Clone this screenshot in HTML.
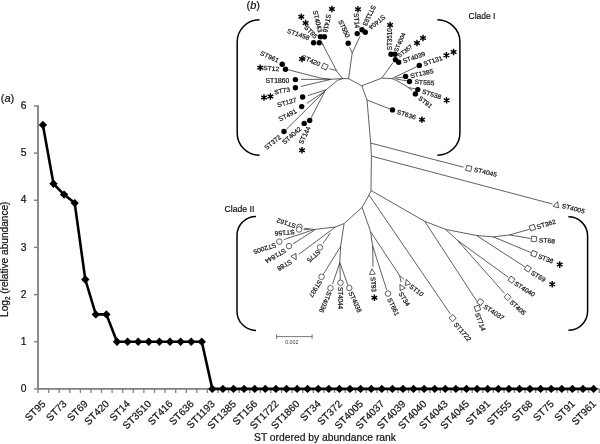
<!DOCTYPE html>
<html><head><meta charset="utf-8"><title>Figure</title>
<style>
html,body{margin:0;padding:0;background:#fff;}
svg{display:block;filter:grayscale(1);font-family:"Liberation Sans",sans-serif;fill:#111;}
svg text{font-family:"Liberation Sans",sans-serif;}
svg text.c{fill:#111;stroke:#111;stroke-width:0.2px;}
svg text.t{stroke:#111;stroke-width:0.2px;}
</style></head><body>
<svg width="600" height="444" viewBox="0 0 600 444">
<rect width="600" height="444" fill="#fff"/>
<path d="M38.0,105.3 L38.0,388.9 L599.3,388.9" fill="none" stroke="#808080" stroke-width="1.8"/>
<path d="M34.0,388.9 L38.0,388.9" stroke="#808080" stroke-width="1.4"/>
<text x="26.4" y="392.0" font-size="10.3" text-anchor="end" class="c">0</text>
<path d="M34.0,341.8 L38.0,341.8" stroke="#808080" stroke-width="1.4"/>
<text x="26.4" y="344.9" font-size="10.3" text-anchor="end" class="c">1</text>
<path d="M34.0,294.6 L38.0,294.6" stroke="#808080" stroke-width="1.4"/>
<text x="26.4" y="297.7" font-size="10.3" text-anchor="end" class="c">2</text>
<path d="M34.0,247.4 L38.0,247.4" stroke="#808080" stroke-width="1.4"/>
<text x="26.4" y="250.5" font-size="10.3" text-anchor="end" class="c">3</text>
<path d="M34.0,200.3 L38.0,200.3" stroke="#808080" stroke-width="1.4"/>
<text x="26.4" y="203.4" font-size="10.3" text-anchor="end" class="c">4</text>
<path d="M34.0,153.1 L38.0,153.1" stroke="#808080" stroke-width="1.4"/>
<text x="26.4" y="156.2" font-size="10.3" text-anchor="end" class="c">5</text>
<path d="M34.0,106.0 L38.0,106.0" stroke="#808080" stroke-width="1.4"/>
<text x="26.4" y="109.1" font-size="10.3" text-anchor="end" class="c">6</text>
<path d="M38.0,388.9 L38.0,392.9" stroke="#808080" stroke-width="1.3"/>
<path d="M48.6,388.9 L48.6,392.9" stroke="#808080" stroke-width="1.3"/>
<path d="M59.2,388.9 L59.2,392.9" stroke="#808080" stroke-width="1.3"/>
<path d="M69.8,388.9 L69.8,392.9" stroke="#808080" stroke-width="1.3"/>
<path d="M80.4,388.9 L80.4,392.9" stroke="#808080" stroke-width="1.3"/>
<path d="M91.0,388.9 L91.0,392.9" stroke="#808080" stroke-width="1.3"/>
<path d="M101.5,388.9 L101.5,392.9" stroke="#808080" stroke-width="1.3"/>
<path d="M112.1,388.9 L112.1,392.9" stroke="#808080" stroke-width="1.3"/>
<path d="M122.7,388.9 L122.7,392.9" stroke="#808080" stroke-width="1.3"/>
<path d="M133.3,388.9 L133.3,392.9" stroke="#808080" stroke-width="1.3"/>
<path d="M143.9,388.9 L143.9,392.9" stroke="#808080" stroke-width="1.3"/>
<path d="M154.5,388.9 L154.5,392.9" stroke="#808080" stroke-width="1.3"/>
<path d="M165.1,388.9 L165.1,392.9" stroke="#808080" stroke-width="1.3"/>
<path d="M175.7,388.9 L175.7,392.9" stroke="#808080" stroke-width="1.3"/>
<path d="M186.3,388.9 L186.3,392.9" stroke="#808080" stroke-width="1.3"/>
<path d="M196.8,388.9 L196.8,392.9" stroke="#808080" stroke-width="1.3"/>
<path d="M207.4,388.9 L207.4,392.9" stroke="#808080" stroke-width="1.3"/>
<path d="M218.0,388.9 L218.0,392.9" stroke="#808080" stroke-width="1.3"/>
<path d="M228.6,388.9 L228.6,392.9" stroke="#808080" stroke-width="1.3"/>
<path d="M239.2,388.9 L239.2,392.9" stroke="#808080" stroke-width="1.3"/>
<path d="M249.8,388.9 L249.8,392.9" stroke="#808080" stroke-width="1.3"/>
<path d="M260.4,388.9 L260.4,392.9" stroke="#808080" stroke-width="1.3"/>
<path d="M271.0,388.9 L271.0,392.9" stroke="#808080" stroke-width="1.3"/>
<path d="M281.6,388.9 L281.6,392.9" stroke="#808080" stroke-width="1.3"/>
<path d="M292.2,388.9 L292.2,392.9" stroke="#808080" stroke-width="1.3"/>
<path d="M302.8,388.9 L302.8,392.9" stroke="#808080" stroke-width="1.3"/>
<path d="M313.3,388.9 L313.3,392.9" stroke="#808080" stroke-width="1.3"/>
<path d="M323.9,388.9 L323.9,392.9" stroke="#808080" stroke-width="1.3"/>
<path d="M334.5,388.9 L334.5,392.9" stroke="#808080" stroke-width="1.3"/>
<path d="M345.1,388.9 L345.1,392.9" stroke="#808080" stroke-width="1.3"/>
<path d="M355.7,388.9 L355.7,392.9" stroke="#808080" stroke-width="1.3"/>
<path d="M366.3,388.9 L366.3,392.9" stroke="#808080" stroke-width="1.3"/>
<path d="M376.9,388.9 L376.9,392.9" stroke="#808080" stroke-width="1.3"/>
<path d="M387.5,388.9 L387.5,392.9" stroke="#808080" stroke-width="1.3"/>
<path d="M398.1,388.9 L398.1,392.9" stroke="#808080" stroke-width="1.3"/>
<path d="M408.6,388.9 L408.6,392.9" stroke="#808080" stroke-width="1.3"/>
<path d="M419.2,388.9 L419.2,392.9" stroke="#808080" stroke-width="1.3"/>
<path d="M429.8,388.9 L429.8,392.9" stroke="#808080" stroke-width="1.3"/>
<path d="M440.4,388.9 L440.4,392.9" stroke="#808080" stroke-width="1.3"/>
<path d="M451.0,388.9 L451.0,392.9" stroke="#808080" stroke-width="1.3"/>
<path d="M461.6,388.9 L461.6,392.9" stroke="#808080" stroke-width="1.3"/>
<path d="M472.2,388.9 L472.2,392.9" stroke="#808080" stroke-width="1.3"/>
<path d="M482.8,388.9 L482.8,392.9" stroke="#808080" stroke-width="1.3"/>
<path d="M493.4,388.9 L493.4,392.9" stroke="#808080" stroke-width="1.3"/>
<path d="M504.0,388.9 L504.0,392.9" stroke="#808080" stroke-width="1.3"/>
<path d="M514.5,388.9 L514.5,392.9" stroke="#808080" stroke-width="1.3"/>
<path d="M525.1,388.9 L525.1,392.9" stroke="#808080" stroke-width="1.3"/>
<path d="M535.7,388.9 L535.7,392.9" stroke="#808080" stroke-width="1.3"/>
<path d="M546.3,388.9 L546.3,392.9" stroke="#808080" stroke-width="1.3"/>
<path d="M556.9,388.9 L556.9,392.9" stroke="#808080" stroke-width="1.3"/>
<path d="M567.5,388.9 L567.5,392.9" stroke="#808080" stroke-width="1.3"/>
<path d="M578.1,388.9 L578.1,392.9" stroke="#808080" stroke-width="1.3"/>
<path d="M588.7,388.9 L588.7,392.9" stroke="#808080" stroke-width="1.3"/>
<path d="M599.3,388.9 L599.3,392.9" stroke="#808080" stroke-width="1.3"/>
<path d="M42.9,124.9 L53.5,183.8 L64.1,194.6 L74.7,203.1 L85.3,279.5 L95.8,314.4 L106.4,314.4 L117.0,341.8 L127.6,341.8 L138.2,341.8 L148.8,341.8 L159.4,341.8 L170.0,341.8 L180.6,341.8 L191.2,341.8 L201.8,341.8 L212.3,388.9 L222.9,388.9 L233.5,388.9 L244.1,388.9 L254.7,388.9 L265.3,388.9 L275.9,388.9 L286.5,388.9 L297.1,388.9 L307.6,388.9 L318.2,388.9 L328.8,388.9 L339.4,388.9 L350.0,388.9 L360.6,388.9 L371.2,388.9 L381.8,388.9 L392.4,388.9 L403.0,388.9 L413.5,388.9 L424.1,388.9 L434.7,388.9 L445.3,388.9 L455.9,388.9 L466.5,388.9 L477.1,388.9 L487.7,388.9 L498.3,388.9 L508.9,388.9 L519.5,388.9 L530.0,388.9 L540.6,388.9 L551.2,388.9 L561.8,388.9 L572.4,388.9 L583.0,388.9 L593.6,388.9" fill="none" stroke="#000" stroke-width="2.6" stroke-linejoin="round"/>
<path d="M42.9,120.7 L47.1,124.9 L42.9,129.1 L38.7,124.9 Z" fill="#000"/>
<path d="M53.5,179.6 L57.7,183.8 L53.5,188.0 L49.3,183.8 Z" fill="#000"/>
<path d="M64.1,190.4 L68.3,194.6 L64.1,198.8 L59.9,194.6 Z" fill="#000"/>
<path d="M74.7,198.9 L78.9,203.1 L74.7,207.3 L70.5,203.1 Z" fill="#000"/>
<path d="M85.3,275.3 L89.5,279.5 L85.3,283.7 L81.1,279.5 Z" fill="#000"/>
<path d="M95.8,310.2 L100.0,314.4 L95.8,318.6 L91.6,314.4 Z" fill="#000"/>
<path d="M106.4,310.2 L110.6,314.4 L106.4,318.6 L102.2,314.4 Z" fill="#000"/>
<path d="M117.0,337.6 L121.2,341.8 L117.0,345.9 L112.8,341.8 Z" fill="#000"/>
<path d="M127.6,337.6 L131.8,341.8 L127.6,345.9 L123.4,341.8 Z" fill="#000"/>
<path d="M138.2,337.6 L142.4,341.8 L138.2,345.9 L134.0,341.8 Z" fill="#000"/>
<path d="M148.8,337.6 L153.0,341.8 L148.8,345.9 L144.6,341.8 Z" fill="#000"/>
<path d="M159.4,337.6 L163.6,341.8 L159.4,345.9 L155.2,341.8 Z" fill="#000"/>
<path d="M170.0,337.6 L174.2,341.8 L170.0,345.9 L165.8,341.8 Z" fill="#000"/>
<path d="M180.6,337.6 L184.8,341.8 L180.6,345.9 L176.4,341.8 Z" fill="#000"/>
<path d="M191.2,337.6 L195.4,341.8 L191.2,345.9 L187.0,341.8 Z" fill="#000"/>
<path d="M201.8,337.6 L205.9,341.8 L201.8,345.9 L197.6,341.8 Z" fill="#000"/>
<path d="M212.3,384.7 L216.5,388.9 L212.3,393.1 L208.1,388.9 Z" fill="#000"/>
<path d="M222.9,384.7 L227.1,388.9 L222.9,393.1 L218.7,388.9 Z" fill="#000"/>
<path d="M233.5,384.7 L237.7,388.9 L233.5,393.1 L229.3,388.9 Z" fill="#000"/>
<path d="M244.1,384.7 L248.3,388.9 L244.1,393.1 L239.9,388.9 Z" fill="#000"/>
<path d="M254.7,384.7 L258.9,388.9 L254.7,393.1 L250.5,388.9 Z" fill="#000"/>
<path d="M265.3,384.7 L269.5,388.9 L265.3,393.1 L261.1,388.9 Z" fill="#000"/>
<path d="M275.9,384.7 L280.1,388.9 L275.9,393.1 L271.7,388.9 Z" fill="#000"/>
<path d="M286.5,384.7 L290.7,388.9 L286.5,393.1 L282.3,388.9 Z" fill="#000"/>
<path d="M297.1,384.7 L301.3,388.9 L297.1,393.1 L292.9,388.9 Z" fill="#000"/>
<path d="M307.6,384.7 L311.8,388.9 L307.6,393.1 L303.4,388.9 Z" fill="#000"/>
<path d="M318.2,384.7 L322.4,388.9 L318.2,393.1 L314.0,388.9 Z" fill="#000"/>
<path d="M328.8,384.7 L333.0,388.9 L328.8,393.1 L324.6,388.9 Z" fill="#000"/>
<path d="M339.4,384.7 L343.6,388.9 L339.4,393.1 L335.2,388.9 Z" fill="#000"/>
<path d="M350.0,384.7 L354.2,388.9 L350.0,393.1 L345.8,388.9 Z" fill="#000"/>
<path d="M360.6,384.7 L364.8,388.9 L360.6,393.1 L356.4,388.9 Z" fill="#000"/>
<path d="M371.2,384.7 L375.4,388.9 L371.2,393.1 L367.0,388.9 Z" fill="#000"/>
<path d="M381.8,384.7 L386.0,388.9 L381.8,393.1 L377.6,388.9 Z" fill="#000"/>
<path d="M392.4,384.7 L396.6,388.9 L392.4,393.1 L388.2,388.9 Z" fill="#000"/>
<path d="M403.0,384.7 L407.2,388.9 L403.0,393.1 L398.8,388.9 Z" fill="#000"/>
<path d="M413.5,384.7 L417.7,388.9 L413.5,393.1 L409.3,388.9 Z" fill="#000"/>
<path d="M424.1,384.7 L428.3,388.9 L424.1,393.1 L419.9,388.9 Z" fill="#000"/>
<path d="M434.7,384.7 L438.9,388.9 L434.7,393.1 L430.5,388.9 Z" fill="#000"/>
<path d="M445.3,384.7 L449.5,388.9 L445.3,393.1 L441.1,388.9 Z" fill="#000"/>
<path d="M455.9,384.7 L460.1,388.9 L455.9,393.1 L451.7,388.9 Z" fill="#000"/>
<path d="M466.5,384.7 L470.7,388.9 L466.5,393.1 L462.3,388.9 Z" fill="#000"/>
<path d="M477.1,384.7 L481.3,388.9 L477.1,393.1 L472.9,388.9 Z" fill="#000"/>
<path d="M487.7,384.7 L491.9,388.9 L487.7,393.1 L483.5,388.9 Z" fill="#000"/>
<path d="M498.3,384.7 L502.5,388.9 L498.3,393.1 L494.1,388.9 Z" fill="#000"/>
<path d="M508.9,384.7 L513.1,388.9 L508.9,393.1 L504.7,388.9 Z" fill="#000"/>
<path d="M519.5,384.7 L523.7,388.9 L519.5,393.1 L515.2,388.9 Z" fill="#000"/>
<path d="M530.0,384.7 L534.2,388.9 L530.0,393.1 L525.8,388.9 Z" fill="#000"/>
<path d="M540.6,384.7 L544.8,388.9 L540.6,393.1 L536.4,388.9 Z" fill="#000"/>
<path d="M551.2,384.7 L555.4,388.9 L551.2,393.1 L547.0,388.9 Z" fill="#000"/>
<path d="M561.8,384.7 L566.0,388.9 L561.8,393.1 L557.6,388.9 Z" fill="#000"/>
<path d="M572.4,384.7 L576.6,388.9 L572.4,393.1 L568.2,388.9 Z" fill="#000"/>
<path d="M583.0,384.7 L587.2,388.9 L583.0,393.1 L578.8,388.9 Z" fill="#000"/>
<path d="M593.6,384.7 L597.8,388.9 L593.6,393.1 L589.4,388.9 Z" fill="#000"/>
<text transform="translate(43.7,402.1) rotate(-45)" font-size="10.2" text-anchor="end" class="c" y="3.5">ST95</text>
<text transform="translate(64.9,402.1) rotate(-45)" font-size="10.2" text-anchor="end" class="c" y="3.5">ST73</text>
<text transform="translate(86.1,402.1) rotate(-45)" font-size="10.2" text-anchor="end" class="c" y="3.5">ST69</text>
<text transform="translate(107.2,402.1) rotate(-45)" font-size="10.2" text-anchor="end" class="c" y="3.5">ST420</text>
<text transform="translate(128.4,402.1) rotate(-45)" font-size="10.2" text-anchor="end" class="c" y="3.5">ST14</text>
<text transform="translate(149.6,402.1) rotate(-45)" font-size="10.2" text-anchor="end" class="c" y="3.5">ST3510</text>
<text transform="translate(170.8,402.1) rotate(-45)" font-size="10.2" text-anchor="end" class="c" y="3.5">ST416</text>
<text transform="translate(192.0,402.1) rotate(-45)" font-size="10.2" text-anchor="end" class="c" y="3.5">ST636</text>
<text transform="translate(213.1,402.1) rotate(-45)" font-size="10.2" text-anchor="end" class="c" y="3.5">ST1193</text>
<text transform="translate(234.3,402.1) rotate(-45)" font-size="10.2" text-anchor="end" class="c" y="3.5">ST1385</text>
<text transform="translate(255.5,402.1) rotate(-45)" font-size="10.2" text-anchor="end" class="c" y="3.5">ST156</text>
<text transform="translate(276.7,402.1) rotate(-45)" font-size="10.2" text-anchor="end" class="c" y="3.5">ST1722</text>
<text transform="translate(297.9,402.1) rotate(-45)" font-size="10.2" text-anchor="end" class="c" y="3.5">ST1860</text>
<text transform="translate(319.0,402.1) rotate(-45)" font-size="10.2" text-anchor="end" class="c" y="3.5">ST34</text>
<text transform="translate(340.2,402.1) rotate(-45)" font-size="10.2" text-anchor="end" class="c" y="3.5">ST372</text>
<text transform="translate(361.4,402.1) rotate(-45)" font-size="10.2" text-anchor="end" class="c" y="3.5">ST4005</text>
<text transform="translate(382.6,402.1) rotate(-45)" font-size="10.2" text-anchor="end" class="c" y="3.5">ST4037</text>
<text transform="translate(403.8,402.1) rotate(-45)" font-size="10.2" text-anchor="end" class="c" y="3.5">ST4039</text>
<text transform="translate(424.9,402.1) rotate(-45)" font-size="10.2" text-anchor="end" class="c" y="3.5">ST4040</text>
<text transform="translate(446.1,402.1) rotate(-45)" font-size="10.2" text-anchor="end" class="c" y="3.5">ST4043</text>
<text transform="translate(467.3,402.1) rotate(-45)" font-size="10.2" text-anchor="end" class="c" y="3.5">ST4045</text>
<text transform="translate(488.5,402.1) rotate(-45)" font-size="10.2" text-anchor="end" class="c" y="3.5">ST491</text>
<text transform="translate(509.7,402.1) rotate(-45)" font-size="10.2" text-anchor="end" class="c" y="3.5">ST555</text>
<text transform="translate(530.8,402.1) rotate(-45)" font-size="10.2" text-anchor="end" class="c" y="3.5">ST68</text>
<text transform="translate(552.0,402.1) rotate(-45)" font-size="10.2" text-anchor="end" class="c" y="3.5">ST75</text>
<text transform="translate(573.2,402.1) rotate(-45)" font-size="10.2" text-anchor="end" class="c" y="3.5">ST91</text>
<text transform="translate(594.4,402.1) rotate(-45)" font-size="10.2" text-anchor="end" class="c" y="3.5">ST961</text>
<text x="254" y="440.6" font-size="10.6" class="c" textLength="142" lengthAdjust="spacingAndGlyphs">ST ordered by abundance rank</text>
<text transform="translate(8.0,317) rotate(-90)" font-size="10.4" class="c" textLength="115.5" lengthAdjust="spacingAndGlyphs">Log<tspan font-size="6.5" dy="1.5">2</tspan><tspan dy="-1.5"> (relative abundance)</tspan></text>
<text x="0.8" y="102" font-size="11" class="c"><tspan>(</tspan><tspan font-style="italic">a</tspan><tspan>)</tspan></text>
<text x="246.5" y="9.2" font-size="11" class="c"><tspan>(</tspan><tspan font-style="italic">b</tspan><tspan>)</tspan></text>
<text x="468.5" y="18.8" font-size="9.2" class="c" textLength="27" lengthAdjust="spacingAndGlyphs">Clade I</text>
<text x="224.5" y="212.2" font-size="9.2" class="c" textLength="29.8" lengthAdjust="spacingAndGlyphs">Clade II</text>
<path d="M259.5,19.7 C247.2,19.7 237.2,29.6 237.2,41.7 L237.2,133.2 C237.2,145.3 247.2,155.2 259.5,155.2" fill="none" stroke="#000" stroke-width="1.5"/>
<path d="M437.3,19.7 C449.7,19.7 459.9,29.6 459.9,41.7 L459.9,133.2 C459.9,145.3 449.7,155.2 437.3,155.2" fill="none" stroke="#000" stroke-width="1.5"/>
<path d="M256.0,216.4 C245.6,216.4 237.0,225.0 237.0,235.4 L237.0,311.4 C237.0,321.8 245.6,330.4 256.0,330.4" fill="none" stroke="#000" stroke-width="1.5"/>
<path d="M568.4,216.8 C579.0,216.8 587.6,225.4 587.6,235.8 L587.6,311.3 C587.6,321.8 579.0,330.3 568.4,330.3" fill="none" stroke="#000" stroke-width="1.5"/>
<path d="M322.6,44.2 L336.7,71.0 L342.6,78.6" fill="none" stroke="#222" stroke-width="0.72" stroke-linejoin="round"/>
<path d="M322.3,42.5 L323.2,45.5" fill="none" stroke="#222" stroke-width="0.72" stroke-linejoin="round"/>
<path d="M329.5,68.8 L336.4,70.6" fill="none" stroke="#222" stroke-width="0.72" stroke-linejoin="round"/>
<path d="M342.6,78.6 L348.6,78.7" fill="none" stroke="#222" stroke-width="0.72" stroke-linejoin="round"/>
<path d="M288.0,69.7 L320.3,78.0 L330.0,79.2" fill="none" stroke="#222" stroke-width="0.72" stroke-linejoin="round"/>
<path d="M301.0,79.4 L330.4,79.3 L342.6,78.6" fill="none" stroke="#222" stroke-width="0.72" stroke-linejoin="round"/>
<path d="M301.0,86.4 L327.4,80.2 L331.0,79.4" fill="none" stroke="#222" stroke-width="0.72" stroke-linejoin="round"/>
<path d="M342.6,78.6 L337.5,80.4 L326.4,89.6 L286.3,129.3" fill="none" stroke="#222" stroke-width="0.72" stroke-linejoin="round"/>
<path d="M326.4,89.6 L308.0,95.6" fill="none" stroke="#222" stroke-width="0.72" stroke-linejoin="round"/>
<path d="M325.2,91.0 L306.8,103.4" fill="none" stroke="#222" stroke-width="0.72" stroke-linejoin="round"/>
<path d="M324.6,92.0 L310.8,118.4" fill="none" stroke="#222" stroke-width="0.72" stroke-linejoin="round"/>
<path d="M348.6,78.7 L352.2,53.1 L360.0,36.3" fill="none" stroke="#222" stroke-width="0.72" stroke-linejoin="round"/>
<path d="M352.2,53.1 L349.6,47.2" fill="none" stroke="#222" stroke-width="0.72" stroke-linejoin="round"/>
<path d="M348.6,78.7 L361.8,85.8 L381.8,78.1 L393.0,62.6" fill="none" stroke="#222" stroke-width="0.72" stroke-linejoin="round"/>
<path d="M381.8,78.1 L392.0,78.6 L416.8,66.6" fill="none" stroke="#222" stroke-width="0.72" stroke-linejoin="round"/>
<path d="M394.5,78.3 L403.0,77.2" fill="none" stroke="#222" stroke-width="0.72" stroke-linejoin="round"/>
<path d="M396.0,79.0 L406.8,80.8" fill="none" stroke="#222" stroke-width="0.72" stroke-linejoin="round"/>
<path d="M392.0,78.6 L399.0,81.8 L408.5,87.6 L412.3,90.6" fill="none" stroke="#222" stroke-width="0.72" stroke-linejoin="round"/>
<path d="M408.5,87.6 L415.2,88.8" fill="none" stroke="#222" stroke-width="0.72" stroke-linejoin="round"/>
<path d="M361.8,85.8 L367.0,100.0 L370.7,143.1 L371.4,156.1 L371.0,190.5" fill="none" stroke="#222" stroke-width="0.72" stroke-linejoin="round"/>
<path d="M367.0,100.0 L390.0,109.0" fill="none" stroke="#222" stroke-width="0.72" stroke-linejoin="round"/>
<path d="M370.7,143.1 L463.5,167.2" fill="none" stroke="#222" stroke-width="0.72" stroke-linejoin="round"/>
<path d="M371.4,156.1 L552.5,204.0" fill="none" stroke="#222" stroke-width="0.72" stroke-linejoin="round"/>
<path d="M371.0,190.5 L424.7,221.3 L445.6,229.4 L476.6,235.5 L493.3,236.9 L509.5,234.9 L529.4,229.3" fill="none" stroke="#222" stroke-width="0.72" stroke-linejoin="round"/>
<path d="M509.5,234.9 L530.6,238.5" fill="none" stroke="#222" stroke-width="0.72" stroke-linejoin="round"/>
<path d="M493.3,236.9 L530.8,252.5" fill="none" stroke="#222" stroke-width="0.72" stroke-linejoin="round"/>
<path d="M476.6,235.5 L524.8,266.8" fill="none" stroke="#222" stroke-width="0.72" stroke-linejoin="round"/>
<path d="M445.6,229.4 L457.8,240.6 L508.5,277.4" fill="none" stroke="#222" stroke-width="0.72" stroke-linejoin="round"/>
<path d="M457.8,240.6 L504.6,293.5" fill="none" stroke="#222" stroke-width="0.72" stroke-linejoin="round"/>
<path d="M424.7,221.3 L477.0,301.5" fill="none" stroke="#222" stroke-width="0.72" stroke-linejoin="round"/>
<path d="M371.0,190.5 L369.1,195.1 L450.5,314.2" fill="none" stroke="#222" stroke-width="0.72" stroke-linejoin="round"/>
<path d="M369.1,195.1 L362.1,207.3 L344.1,223.6" fill="none" stroke="#222" stroke-width="0.72" stroke-linejoin="round"/>
<path d="M362.1,207.3 L370.7,231.9 L371.7,240.0 L372.7,246.1 L373.0,266.6" fill="none" stroke="#222" stroke-width="0.72" stroke-linejoin="round"/>
<path d="M372.7,246.1 L386.8,290.2" fill="none" stroke="#222" stroke-width="0.72" stroke-linejoin="round"/>
<path d="M370.7,231.9 L399.6,275.5 L403.8,279.2" fill="none" stroke="#222" stroke-width="0.72" stroke-linejoin="round"/>
<path d="M399.6,275.5 L401.1,282.3" fill="none" stroke="#222" stroke-width="0.72" stroke-linejoin="round"/>
<path d="M344.1,223.6 L335.5,227.0 L314.2,229.5 L304.4,228.2" fill="none" stroke="#222" stroke-width="0.72" stroke-linejoin="round"/>
<path d="M309.5,229.6 L303.5,229.6" fill="none" stroke="#222" stroke-width="0.72" stroke-linejoin="round"/>
<path d="M314.2,229.5 L283.8,239.6" fill="none" stroke="#222" stroke-width="0.72" stroke-linejoin="round"/>
<path d="M314.7,230.0 L292.8,244.0" fill="none" stroke="#222" stroke-width="0.72" stroke-linejoin="round"/>
<path d="M335.5,227.0 L299.0,254.2" fill="none" stroke="#222" stroke-width="0.72" stroke-linejoin="round"/>
<path d="M330.5,232.7 L322.9,243.6" fill="none" stroke="#222" stroke-width="0.72" stroke-linejoin="round"/>
<path d="M344.1,223.6 L340.6,246.4 L339.8,262.6 L340.3,280.0" fill="none" stroke="#222" stroke-width="0.72" stroke-linejoin="round"/>
<path d="M340.6,246.4 L323.6,273.8" fill="none" stroke="#222" stroke-width="0.72" stroke-linejoin="round"/>
<path d="M339.8,262.6 L332.5,284.2" fill="none" stroke="#222" stroke-width="0.72" stroke-linejoin="round"/>
<path d="M339.8,262.6 L347.9,285.0" fill="none" stroke="#222" stroke-width="0.72" stroke-linejoin="round"/>
<circle cx="313.6" cy="42.7" r="2.7" fill="#000"/>
<circle cx="319.3" cy="42.7" r="2.7" fill="#000"/>
<circle cx="320.5" cy="36.7" r="2.7" fill="#000"/>
<circle cx="324.5" cy="36.7" r="2.7" fill="#000"/>
<circle cx="282.2" cy="64.2" r="2.7" fill="#000"/>
<circle cx="285.5" cy="69.2" r="2.7" fill="#000"/>
<circle cx="295.4" cy="79.6" r="2.7" fill="#000"/>
<circle cx="295.4" cy="87.8" r="2.7" fill="#000"/>
<circle cx="302.6" cy="97.0" r="2.7" fill="#000"/>
<circle cx="301.7" cy="106.6" r="2.7" fill="#000"/>
<circle cx="284.0" cy="131.5" r="2.7" fill="#000"/>
<circle cx="304.2" cy="123.4" r="2.7" fill="#000"/>
<circle cx="309.7" cy="120.5" r="2.7" fill="#000"/>
<circle cx="348.2" cy="43.2" r="2.7" fill="#000"/>
<circle cx="357.2" cy="33.6" r="2.7" fill="#000"/>
<circle cx="362.0" cy="29.8" r="2.7" fill="#000"/>
<circle cx="365.3" cy="32.2" r="2.7" fill="#000"/>
<circle cx="391.0" cy="54.3" r="2.7" fill="#000"/>
<circle cx="395.0" cy="54.3" r="2.7" fill="#000"/>
<circle cx="395.4" cy="59.8" r="2.7" fill="#000"/>
<circle cx="398.7" cy="62.2" r="2.7" fill="#000"/>
<circle cx="419.3" cy="65.4" r="2.7" fill="#000"/>
<circle cx="405.6" cy="76.4" r="2.7" fill="#000"/>
<circle cx="409.5" cy="81.5" r="2.7" fill="#000"/>
<circle cx="417.8" cy="89.6" r="2.7" fill="#000"/>
<circle cx="415.4" cy="93.9" r="2.7" fill="#000"/>
<circle cx="392.5" cy="109.9" r="2.7" fill="#000"/>
<rect x="-2.6" y="-2.6" width="5.2" height="5.2" transform="translate(324.8,66.6) rotate(25)" fill="#fff" stroke="#222" stroke-width="0.7"/>
<circle cx="299.5" cy="226.9" r="2.75" fill="#fff" stroke="#222" stroke-width="0.7"/>
<circle cx="299.0" cy="229.5" r="2.75" fill="#fff" stroke="#222" stroke-width="0.7"/>
<circle cx="279.4" cy="241.6" r="2.75" fill="#fff" stroke="#222" stroke-width="0.7"/>
<circle cx="289.0" cy="246.1" r="2.75" fill="#fff" stroke="#222" stroke-width="0.7"/>
<circle cx="320.0" cy="247.4" r="2.75" fill="#fff" stroke="#222" stroke-width="0.7"/>
<circle cx="321.5" cy="276.8" r="2.75" fill="#fff" stroke="#222" stroke-width="0.7"/>
<circle cx="330.5" cy="288.2" r="2.75" fill="#fff" stroke="#222" stroke-width="0.7"/>
<circle cx="340.5" cy="282.8" r="2.75" fill="#fff" stroke="#222" stroke-width="0.7"/>
<circle cx="349.3" cy="288.0" r="2.75" fill="#fff" stroke="#222" stroke-width="0.7"/>
<circle cx="388.0" cy="293.6" r="2.75" fill="#fff" stroke="#222" stroke-width="0.7"/>
<polygon points="0.00,-3.20 2.88,2.40 -2.88,2.40" transform="translate(294.6,257.0) rotate(150)" fill="#fff" stroke="#222" stroke-width="0.7"/>
<polygon points="0.00,-3.20 2.88,2.40 -2.88,2.40" transform="translate(372.2,272.0) rotate(-5)" fill="#fff" stroke="#222" stroke-width="0.7"/>
<polygon points="0.00,-3.20 2.88,2.40 -2.88,2.40" transform="translate(401.5,287.3) rotate(-30)" fill="#fff" stroke="#222" stroke-width="0.7"/>
<polygon points="0.00,-3.20 2.88,2.40 -2.88,2.40" transform="translate(407.3,282.4) rotate(-15)" fill="#fff" stroke="#222" stroke-width="0.7"/>
<polygon points="0.00,-3.20 2.88,2.40 -2.88,2.40" transform="translate(556.6,204.8) rotate(15)" fill="#fff" stroke="#222" stroke-width="0.7"/>
<rect x="-2.55" y="-2.55" width="5.1" height="5.1" transform="translate(452.6,318.1) rotate(50)" fill="#fff" stroke="#222" stroke-width="0.7"/>
<rect x="-2.55" y="-2.55" width="5.1" height="5.1" transform="translate(477.4,308.3) rotate(70)" fill="#fff" stroke="#222" stroke-width="0.7"/>
<rect x="-2.55" y="-2.55" width="5.1" height="5.1" transform="translate(480.3,302.0) rotate(35)" fill="#fff" stroke="#222" stroke-width="0.7"/>
<rect x="-2.55" y="-2.55" width="5.1" height="5.1" transform="translate(507.6,297.1) rotate(45)" fill="#fff" stroke="#222" stroke-width="0.7"/>
<rect x="-2.55" y="-2.55" width="5.1" height="5.1" transform="translate(511.5,279.7) rotate(35)" fill="#fff" stroke="#222" stroke-width="0.7"/>
<rect x="-2.55" y="-2.55" width="5.1" height="5.1" transform="translate(527.8,268.6) rotate(33)" fill="#fff" stroke="#222" stroke-width="0.7"/>
<rect x="-2.55" y="-2.55" width="5.1" height="5.1" transform="translate(534.0,253.8) rotate(22)" fill="#fff" stroke="#222" stroke-width="0.7"/>
<rect x="-2.55" y="-2.55" width="5.1" height="5.1" transform="translate(533.9,239.0) rotate(5)" fill="#fff" stroke="#222" stroke-width="0.7"/>
<rect x="-2.55" y="-2.55" width="5.1" height="5.1" transform="translate(532.4,227.6) rotate(-18)" fill="#fff" stroke="#222" stroke-width="0.7"/>
<rect x="-2.55" y="-2.55" width="5.1" height="5.1" transform="translate(468.8,168.4) rotate(14)" fill="#fff" stroke="#222" stroke-width="0.7"/>
<text transform="translate(287.4,30.3) scale(1.07,1) rotate(21.0)" font-size="6.3" text-anchor="start" y="2.27" class="t">ST1458</text>
<text transform="translate(305.5,26.3) scale(1.07,1) rotate(48.0)" font-size="6.3" text-anchor="start" y="2.27" class="t">ST95</text>
<text transform="translate(315.0,10.6) scale(1.07,1) rotate(76.7)" font-size="6.3" text-anchor="start" y="2.27" class="t">ST4043</text>
<text transform="translate(329.0,14.3) scale(1.07,1) rotate(101.6)" font-size="6.3" text-anchor="start" y="2.27" class="t">ST416</text>
<text transform="translate(340.2,20.2) scale(1.07,1) rotate(66.0)" font-size="6.3" text-anchor="start" y="2.27" class="t">ST550</text>
<text transform="translate(356.3,13.2) scale(1.07,1) rotate(86.0)" font-size="6.3" text-anchor="start" y="2.27" class="t">ST14</text>
<text transform="translate(374.2,5.8) scale(1.07,1) rotate(114.5)" font-size="6.3" text-anchor="start" y="2.27" class="t">ST1193</text>
<text transform="translate(384.7,16.1) scale(1.07,1) rotate(138.7)" font-size="6.3" text-anchor="start" y="2.27" class="t">ST404</text>
<text transform="translate(389.9,50.2) scale(1.07,1) rotate(-90.0)" font-size="6.3" text-anchor="start" y="2.27" class="t">ST3510</text>
<text transform="translate(395.8,51.2) scale(1.07,1) rotate(-68.0)" font-size="5.6" text-anchor="start" y="2.02" class="t">ST4004</text>
<text transform="translate(398.2,56.2) scale(1.07,1) rotate(-40.0)" font-size="5.6" text-anchor="start" y="2.02" class="t">ST357</text>
<text transform="translate(402.8,61.0) scale(1.07,1) rotate(-20.0)" font-size="6.3" text-anchor="start" y="2.27" class="t">ST4039</text>
<text transform="translate(423.6,63.9) scale(1.07,1) rotate(-20.0)" font-size="6.3" text-anchor="start" y="2.27" class="t">ST131</text>
<text transform="translate(410.4,76.1) scale(1.07,1) rotate(-14.0)" font-size="6.3" text-anchor="start" y="2.27" class="t">ST1385</text>
<text transform="translate(414.6,81.5) scale(1.07,1) rotate(5.0)" font-size="6.3" text-anchor="start" y="2.27" class="t">ST555</text>
<text transform="translate(422.4,91.2) scale(1.07,1) rotate(19.0)" font-size="6.3" text-anchor="start" y="2.27" class="t">ST538</text>
<text transform="translate(419.3,97.2) scale(1.07,1) rotate(40.0)" font-size="6.3" text-anchor="start" y="2.27" class="t">ST91</text>
<text transform="translate(397.0,111.5) scale(1.07,1) rotate(19.0)" font-size="6.3" text-anchor="start" y="2.27" class="t">ST636</text>
<text transform="translate(278.6,60.6) scale(1.07,1) rotate(25.0)" font-size="6.3" text-anchor="end" y="2.27" class="t">ST961</text>
<text transform="translate(279.2,69.0) scale(1.07,1) rotate(5.0)" font-size="6.3" text-anchor="end" y="2.27" class="t">ST12</text>
<text transform="translate(289.2,80.3) scale(1.07,1) rotate(0.0)" font-size="6.3" text-anchor="end" y="2.27" class="t">ST1860</text>
<text transform="translate(290.0,89.3) scale(1.07,1) rotate(-11.0)" font-size="6.3" text-anchor="end" y="2.27" class="t">ST73</text>
<text transform="translate(296.3,99.4) scale(1.07,1) rotate(-17.6)" font-size="6.3" text-anchor="end" y="2.27" class="t">ST127</text>
<text transform="translate(296.2,110.6) scale(1.07,1) rotate(-29.0)" font-size="6.3" text-anchor="end" y="2.27" class="t">ST491</text>
<text transform="translate(280.1,136.2) scale(1.07,1) rotate(-41.0)" font-size="6.3" text-anchor="end" y="2.27" class="t">ST372</text>
<text transform="translate(300.4,127.9) scale(1.07,1) rotate(-43.0)" font-size="6.3" text-anchor="end" y="2.27" class="t">ST4042</text>
<text transform="translate(308.5,126.8) scale(1.07,1) rotate(-66.0)" font-size="6.3" text-anchor="end" y="2.27" class="t">ST144</text>
<text transform="translate(320.2,64.4) scale(1.07,1) rotate(24.4)" font-size="6.3" text-anchor="end" y="2.27" class="t">ST420</text>
<text transform="translate(295.6,226.4) scale(1.07,1) rotate(199.5)" font-size="6.3" text-anchor="start" y="2.27" class="t">ST162</text>
<text transform="translate(294.6,232.0) scale(1.07,1) rotate(175.0)" font-size="6.3" text-anchor="start" y="2.27" class="t">ST156</text>
<text transform="translate(276.0,245.0) scale(1.07,1) rotate(161.0)" font-size="6.3" text-anchor="start" y="2.27" class="t">ST2005</text>
<text transform="translate(285.5,250.2) scale(1.07,1) rotate(148.0)" font-size="6.3" text-anchor="start" y="2.27" class="t">ST1844</text>
<text transform="translate(291.5,261.4) scale(1.07,1) rotate(149.0)" font-size="6.3" text-anchor="start" y="2.27" class="t">ST88</text>
<text transform="translate(319.4,250.8) scale(1.07,1) rotate(135.0)" font-size="6.3" text-anchor="start" y="2.27" class="t">ST75</text>
<text transform="translate(320.5,280.6) scale(1.07,1) rotate(120.0)" font-size="6.3" text-anchor="start" y="2.27" class="t">ST937</text>
<text transform="translate(329.7,291.8) scale(1.07,1) rotate(111.0)" font-size="6.3" text-anchor="start" y="2.27" class="t">ST4036</text>
<text transform="translate(340.6,287.0) scale(1.07,1) rotate(90.0)" font-size="6.3" text-anchor="start" y="2.27" class="t">ST4044</text>
<text transform="translate(350.4,291.8) scale(1.07,1) rotate(66.0)" font-size="6.3" text-anchor="start" y="2.27" class="t">ST4038</text>
<text transform="translate(373.0,276.8) scale(1.07,1) rotate(86.0)" font-size="6.3" text-anchor="start" y="2.27" class="t">ST93</text>
<text transform="translate(389.2,298.4) scale(1.07,1) rotate(65.0)" font-size="6.3" text-anchor="start" y="2.27" class="t">ST661</text>
<text transform="translate(400.4,292.4) scale(1.07,1) rotate(60.0)" font-size="6.3" text-anchor="start" y="2.27" class="t">ST34</text>
<text transform="translate(410.4,285.5) scale(1.07,1) rotate(39.0)" font-size="6.3" text-anchor="start" y="2.27" class="t">ST10</text>
<text transform="translate(455.2,323.2) scale(1.07,1) rotate(51.0)" font-size="6.3" text-anchor="start" y="2.27" class="t">ST1722</text>
<text transform="translate(477.2,313.0) scale(1.07,1) rotate(71.0)" font-size="6.3" text-anchor="start" y="2.27" class="t">ST714</text>
<text transform="translate(484.2,305.8) scale(1.07,1) rotate(35.0)" font-size="6.3" text-anchor="start" y="2.27" class="t">ST4037</text>
<text transform="translate(510.6,301.0) scale(1.07,1) rotate(44.0)" font-size="6.3" text-anchor="start" y="2.27" class="t">ST405</text>
<text transform="translate(514.8,282.8) scale(1.07,1) rotate(34.0)" font-size="6.3" text-anchor="start" y="2.27" class="t">ST4040</text>
<text transform="translate(531.6,272.0) scale(1.07,1) rotate(33.0)" font-size="6.3" text-anchor="start" y="2.27" class="t">ST69</text>
<text transform="translate(538.3,255.9) scale(1.07,1) rotate(22.0)" font-size="6.3" text-anchor="start" y="2.27" class="t">ST38</text>
<text transform="translate(539.0,239.9) scale(1.07,1) rotate(5.0)" font-size="6.3" text-anchor="start" y="2.27" class="t">ST68</text>
<text transform="translate(536.7,227.0) scale(1.07,1) rotate(-18.0)" font-size="6.3" text-anchor="start" y="2.27" class="t">ST362</text>
<text transform="translate(562.0,205.5) scale(1.07,1) rotate(16.0)" font-size="6.3" text-anchor="start" y="2.27" class="t">ST4005</text>
<text transform="translate(474.0,169.3) scale(1.07,1) rotate(14.0)" font-size="6.3" text-anchor="start" y="2.27" class="t">ST4045</text>
<path d="M276.6,336.6 L312.1,336.6 M276.6,334.4 L276.6,338.9 M312.1,334.4 L312.1,338.9" stroke="#555" stroke-width="0.8" fill="none"/>
<text x="291.8" y="344.3" font-size="5.3" text-anchor="middle" fill="#333">0.002</text>
<path d="M301.30,13.40 L301.30,20.00 M298.44,15.05 L304.16,18.35 M304.16,15.05 L298.44,18.35" stroke="#000" stroke-width="1.4" fill="none"/><circle cx="301.30" cy="16.70" r="1.15" fill="#000"/>
<path d="M305.60,19.70 L305.60,26.30 M302.74,21.35 L308.46,24.65 M308.46,21.35 L302.74,24.65" stroke="#000" stroke-width="1.4" fill="none"/><circle cx="305.60" cy="23.00" r="1.15" fill="#000"/>
<path d="M331.90,5.70 L331.90,12.30 M329.04,7.35 L334.76,10.65 M334.76,7.35 L329.04,10.65" stroke="#000" stroke-width="1.4" fill="none"/><circle cx="331.90" cy="9.00" r="1.15" fill="#000"/>
<path d="M358.00,5.90 L358.00,12.50 M355.14,7.55 L360.86,10.85 M360.86,7.55 L355.14,10.85" stroke="#000" stroke-width="1.4" fill="none"/><circle cx="358.00" cy="9.20" r="1.15" fill="#000"/>
<path d="M390.10,21.70 L390.10,28.30 M387.24,23.35 L392.96,26.65 M392.96,23.35 L387.24,26.65" stroke="#000" stroke-width="1.4" fill="none"/><circle cx="390.10" cy="25.00" r="1.15" fill="#000"/>
<path d="M417.00,39.70 L417.00,46.30 M414.14,41.35 L419.86,44.65 M419.86,41.35 L414.14,44.65" stroke="#000" stroke-width="1.4" fill="none"/><circle cx="417.00" cy="43.00" r="1.15" fill="#000"/>
<path d="M423.00,34.70 L423.00,41.30 M420.14,36.35 L425.86,39.65 M425.86,36.35 L420.14,39.65" stroke="#000" stroke-width="1.4" fill="none"/><circle cx="423.00" cy="38.00" r="1.15" fill="#000"/>
<path d="M446.40,52.00 L446.40,58.60 M443.54,53.65 L449.26,56.95 M449.26,53.65 L443.54,56.95" stroke="#000" stroke-width="1.4" fill="none"/><circle cx="446.40" cy="55.30" r="1.15" fill="#000"/>
<path d="M453.60,48.70 L453.60,55.30 M450.74,50.35 L456.46,53.65 M456.46,50.35 L450.74,53.65" stroke="#000" stroke-width="1.4" fill="none"/><circle cx="453.60" cy="52.00" r="1.15" fill="#000"/>
<path d="M446.60,97.00 L446.60,103.60 M443.74,98.65 L449.46,101.95 M449.46,98.65 L443.74,101.95" stroke="#000" stroke-width="1.4" fill="none"/><circle cx="446.60" cy="100.30" r="1.15" fill="#000"/>
<path d="M422.00,116.40 L422.00,123.00 M419.14,118.05 L424.86,121.35 M424.86,118.05 L419.14,121.35" stroke="#000" stroke-width="1.4" fill="none"/><circle cx="422.00" cy="119.70" r="1.15" fill="#000"/>
<path d="M260.20,64.50 L260.20,71.10 M257.34,66.15 L263.06,69.45 M263.06,66.15 L257.34,69.45" stroke="#000" stroke-width="1.4" fill="none"/><circle cx="260.20" cy="67.80" r="1.15" fill="#000"/>
<path d="M264.00,94.20 L264.00,100.80 M261.14,95.85 L266.86,99.15 M266.86,95.85 L261.14,99.15" stroke="#000" stroke-width="1.4" fill="none"/><circle cx="264.00" cy="97.50" r="1.15" fill="#000"/>
<path d="M270.40,93.20 L270.40,99.80 M267.54,94.85 L273.26,98.15 M273.26,94.85 L267.54,98.15" stroke="#000" stroke-width="1.4" fill="none"/><circle cx="270.40" cy="96.50" r="1.15" fill="#000"/>
<path d="M302.00,55.70 L302.00,62.30 M299.14,57.35 L304.86,60.65 M304.86,57.35 L299.14,60.65" stroke="#000" stroke-width="1.4" fill="none"/><circle cx="302.00" cy="59.00" r="1.15" fill="#000"/>
<path d="M302.00,146.90 L302.00,153.50 M299.14,148.55 L304.86,151.85 M304.86,148.55 L299.14,151.85" stroke="#000" stroke-width="1.4" fill="none"/><circle cx="302.00" cy="150.20" r="1.15" fill="#000"/>
<path d="M374.40,294.50 L374.40,301.10 M371.54,296.15 L377.26,299.45 M377.26,296.15 L371.54,299.45" stroke="#000" stroke-width="1.4" fill="none"/><circle cx="374.40" cy="297.80" r="1.15" fill="#000"/>
<path d="M559.70,261.30 L559.70,267.90 M556.84,262.95 L562.56,266.25 M562.56,262.95 L556.84,266.25" stroke="#000" stroke-width="1.4" fill="none"/><circle cx="559.70" cy="264.60" r="1.15" fill="#000"/>
<path d="M552.20,281.00 L552.20,287.60 M549.34,282.65 L555.06,285.95 M555.06,282.65 L549.34,285.95" stroke="#000" stroke-width="1.4" fill="none"/><circle cx="552.20" cy="284.30" r="1.15" fill="#000"/>
</svg>
</body></html>
